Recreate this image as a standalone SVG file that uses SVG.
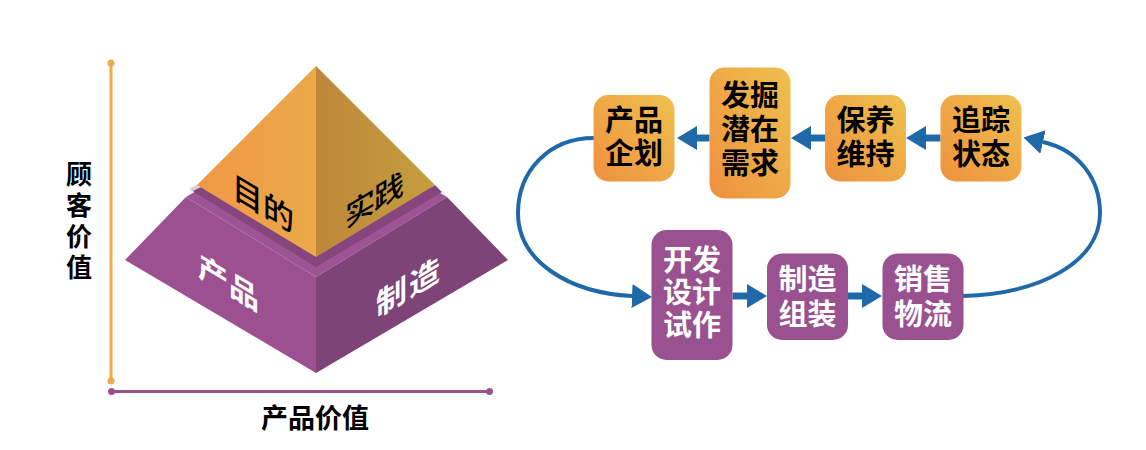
<svg xmlns="http://www.w3.org/2000/svg" width="1146" height="450" viewBox="0 0 1146 450">
<style>
text{font-family:"Noto Sans CJK SC","Noto Sans",sans-serif;}
.bk{fill:#000;font-weight:bold;font-size:29px;text-anchor:middle;}
.wt{fill:#fff;font-weight:bold;font-size:29px;text-anchor:middle;}
.ob{fill:url(#og);}
.pb{fill:#9a5190;}
.conn{fill:none;stroke:#1f69a9;}
.ax{font-weight:bold;font-size:26px;fill:#000;text-anchor:middle;}
</style>
<defs>
<linearGradient id="og" x1="0" y1="1" x2="1" y2="0">
<stop offset="0" stop-color="#ee913f"/>
<stop offset="1" stop-color="#efc04e"/>
</linearGradient>
<linearGradient id="lf" x1="197" y1="0" x2="316" y2="0" gradientUnits="userSpaceOnUse">
<stop offset="0" stop-color="#ef9845"/>
<stop offset="1" stop-color="#eba949"/>
</linearGradient>
<linearGradient id="rf" x1="316" y1="0" x2="435" y2="0" gradientUnits="userSpaceOnUse">
<stop offset="0" stop-color="#be873a"/>
<stop offset="1" stop-color="#c59e3f"/>
</linearGradient>
<marker id="ah" viewBox="0 0 20 24" markerWidth="20" markerHeight="24" refX="0" refY="12" orient="auto" markerUnits="userSpaceOnUse">
<path d="M0,0 L20,12 L0,24 Z" fill="#1f69a9"/>
</marker>
</defs>

<g id="axes">
<line x1="111" y1="63" x2="111" y2="381" stroke="#f0a848" stroke-width="3"/>
<circle cx="111" cy="63" r="3.5" fill="#f0a848"/>
<circle cx="111" cy="381" r="3.5" fill="#f0a848"/>
<line x1="111.5" y1="391.5" x2="489.5" y2="391.5" stroke="#9a5190" stroke-width="3"/>
<circle cx="111.5" cy="391.5" r="3.5" fill="#9a5190"/>
<circle cx="489.5" cy="391.5" r="3.5" fill="#9a5190"/>
<text class="ax" x="79" y="184">顾<tspan x="79" dy="31">客</tspan><tspan x="79" dy="31">价</tspan><tspan x="79" dy="31">值</tspan></text>
<text class="ax" x="315" y="428" style="font-size:27px">产品价值</text>
</g>

<g id="pyramid">
<polygon points="186,197 316,120 447,197 316,277" fill="#9d5394"/>
<polygon points="186,197 316,277 316,373 125,260" fill="#9b5190"/>
<polygon points="316,277 447,197 508,260 316,373" fill="#7e4377"/>
<line x1="186" y1="197" x2="316" y2="277" stroke="#b070a8" stroke-width="0.6" stroke-dasharray="2,2"/>
<polygon points="197,185 316,257 435,185 442,192 316,267 191,190" fill="#87457e"/>
<polygon points="189,189 198,184 201,187 193,191" fill="#d8d2d6"/>
<polygon points="316,66 197,185 316,257" fill="url(#lf)"/>
<polygon points="316,66 316,257 435,185" fill="url(#rf)"/>
<text transform="translate(263,204) skewY(31)" x="0" y="11" style="font-size:31px;font-weight:500;text-anchor:middle;fill:#000">目的</text>
<text transform="translate(374,200) skewY(-31)" x="0" y="11" style="font-size:30px;font-weight:500;letter-spacing:-1px;text-anchor:middle;fill:#000">实践</text>
<text transform="translate(229,283) skewY(31)" x="0" y="11" style="font-size:30px;letter-spacing:1px;font-weight:bold;text-anchor:middle;fill:#fff">产品</text>
<text transform="translate(409,287) skewY(-31)" x="0" y="11" style="font-size:31px;letter-spacing:2px;font-weight:bold;text-anchor:middle;fill:#fff">制造</text>
</g>

<g id="connectors">
<path class="conn" d="M709.5,138 L697,138" stroke-width="7" marker-end="url(#ah)"/>
<path class="conn" d="M825,138 L811,138" stroke-width="7" marker-end="url(#ah)"/>
<path class="conn" d="M940.5,138 L926,138" stroke-width="7" marker-end="url(#ah)"/>
<path class="conn" d="M732.5,296 L747,296" stroke-width="7" marker-end="url(#ah)"/>
<path class="conn" d="M848,296 L862,296" stroke-width="7" marker-end="url(#ah)"/>
<path class="conn" d="M594,138 C548,138 518,172 518,213 C518,262 570,293 632,296" stroke-width="4" marker-end="url(#ah)"/>
<path class="conn" d="M963,296 C1040,294 1100,262 1100,213 C1100,178 1078,150 1043,142" stroke-width="4" marker-end="url(#ah)"/>
</g>

<g id="n-chanpinqihua">
<rect class="ob" x="593.5" y="95" width="81" height="86.5" rx="15"/>
<text class="bk" x="634" y="130.5">产品</text>
<text class="bk" x="634" y="163.5">企划</text>
</g>
<g id="n-fajue">
<rect class="ob" x="709.5" y="67.5" width="81" height="131" rx="15"/>
<text class="bk" x="750" y="106">发掘</text>
<text class="bk" x="750" y="140">潜在</text>
<text class="bk" x="750" y="174">需求</text>
</g>
<g id="n-baoyang">
<rect class="ob" x="825" y="95" width="81" height="86.5" rx="15"/>
<text class="bk" x="865.5" y="130.5">保养</text>
<text class="bk" x="865.5" y="164.5">维持</text>
</g>
<g id="n-zhuizong">
<rect class="ob" x="940.5" y="95" width="81" height="86.5" rx="15"/>
<text class="bk" x="981" y="130.5">追踪</text>
<text class="bk" x="981" y="164.5">状态</text>
</g>
<g id="n-kaifa">
<rect class="pb" x="651.5" y="230" width="81" height="130" rx="15"/>
<text class="wt" x="692" y="270.5">开发</text>
<text class="wt" x="692" y="302.5">设计</text>
<text class="wt" x="692" y="335.5">试作</text>
</g>
<g id="n-zhizao">
<rect class="pb" x="767" y="253.5" width="81" height="86.5" rx="15"/>
<text class="wt" x="807.5" y="289.5">制造</text>
<text class="wt" x="807.5" y="325">组装</text>
</g>
<g id="n-xiaoshou">
<rect class="pb" x="882.5" y="253.5" width="81" height="86.5" rx="15"/>
<text class="wt" x="923" y="289.5">销售</text>
<text class="wt" x="923" y="325">物流</text>
</g>
</svg>
